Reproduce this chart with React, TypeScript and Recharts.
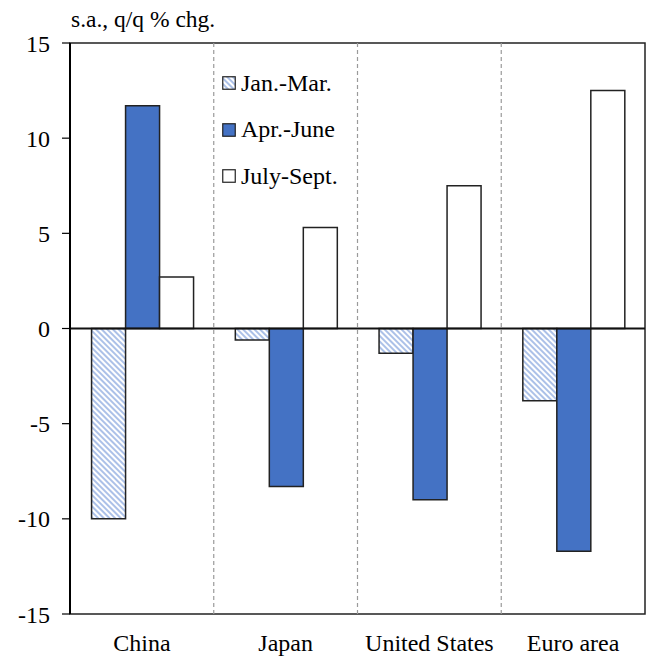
import React from 'react';
import {
  BarChart, Bar, XAxis, YAxis, ReferenceLine, ReferenceArea, Legend,
} from 'recharts';

const categories = ['China', 'Japan', 'United States', 'Euro area'];
const janMar = [-10.0, -0.6, -1.3, -3.8];
const aprJune = [11.7, -8.3, -9.0, -11.7];
const julySept = [2.7, 5.3, 7.5, 12.5];
const yTicks = [-15, -10, -5, 0, 5, 10, 15];
const seriesNames = ['Jan.-Mar.', 'Apr.-June', 'July-Sept.'];

const data = categories.map((c, i) => ({
  name: c,
  janMar: janMar[i],
  aprJune: aprJune[i],
  julySept: julySept[i],
}));

const FONT = '"Liberation Serif", "Times New Roman", serif';
const BLUE = '#4472C4';
const EDGE = '#222';
const FS = 24;

const fills = ['url(#hatch)', BLUE, '#ffffff'];

const LegendContent = () => (
  <div style={{ fontFamily: FONT, fontSize: FS, color: '#000' }}>
    {seriesNames.map((n, i) => (
      <div key={n} style={{ display: 'flex', alignItems: 'center', height: 46.5 }}>
        <svg width={14} height={14} style={{ marginRight: 5 }}>
          <rect x={0.75} y={0.75} width={12.5} height={12.5} fill={fills[i]} stroke={EDGE} strokeWidth={1.2} />
        </svg>
        <span>{n}</span>
      </div>
    ))}
  </div>
);

export default function App() {
  return (
    <div style={{ position: 'absolute', left: 0, top: 0, width: 648, height: 660, background: '#fff' }}>
      <div style={{ position: 'absolute', left: 71, top: 6, fontFamily: FONT, fontSize: 23.5, color: '#000', whiteSpace: 'nowrap' }}>
        s.a., q/q % chg.
      </div>
      <BarChart
        width={648}
        height={660}
        data={data}
        margin={{ top: 43, right: 3, left: 0, bottom: 0 }}
        barCategoryGap="15%"
        barGap={0}
      >
        <defs>
          <pattern id="hatch" patternUnits="userSpaceOnUse" width={4} height={4} patternTransform="rotate(45)">
            <rect x={0} y={0} width={4} height={4} fill="#ffffff" />
            <line x1={0} y1={1} x2={4} y2={1} stroke="#7f9fdc" strokeWidth={1.3} />
          </pattern>
        </defs>
        <XAxis
          dataKey="name"
          height={46}
          axisLine={false}
          tickLine={false}
          tickSize={0}
          tickMargin={20}
          tick={{ fontFamily: FONT, fontSize: FS, fill: '#000' }}
          interval={0}
        />
        <YAxis
          domain={[-15, 15]}
          ticks={yTicks}
          width={70}
          axisLine={{ stroke: '#000', strokeWidth: 2 }}
          tickLine={{ stroke: '#000', strokeWidth: 1.2 }}
          tickSize={8}
          tickMargin={12}
          tick={{ fontFamily: FONT, fontSize: FS, fill: '#000' }}
          interval={0}
        />
        {categories.slice(1).map((c) => (
          <ReferenceLine key={c} x={c} position="start" stroke="#9a9a9a" strokeWidth={1.2} strokeDasharray="4 3" />
        ))}
        <ReferenceArea y1={-15} y2={15} fill="none" stroke="#222" strokeWidth={1.5} ifOverflow="visible" />
        <Bar dataKey="janMar" name={seriesNames[0]} fill="url(#hatch)" stroke={EDGE} strokeWidth={1.5} isAnimationActive={false} />
        <Bar dataKey="aprJune" name={seriesNames[1]} fill={BLUE} stroke={EDGE} strokeWidth={1.5} isAnimationActive={false} />
        <Bar dataKey="julySept" name={seriesNames[2]} fill="#ffffff" stroke={EDGE} strokeWidth={1.5} isAnimationActive={false} />
        <ReferenceLine y={0} stroke="#111" strokeWidth={2} />
        <Legend
          layout="vertical"
          verticalAlign="middle"
          align="center"
          content={LegendContent}
          wrapperStyle={{ left: 222, top: 60, width: 170 }}
        />
      </BarChart>
    </div>
  );
}
